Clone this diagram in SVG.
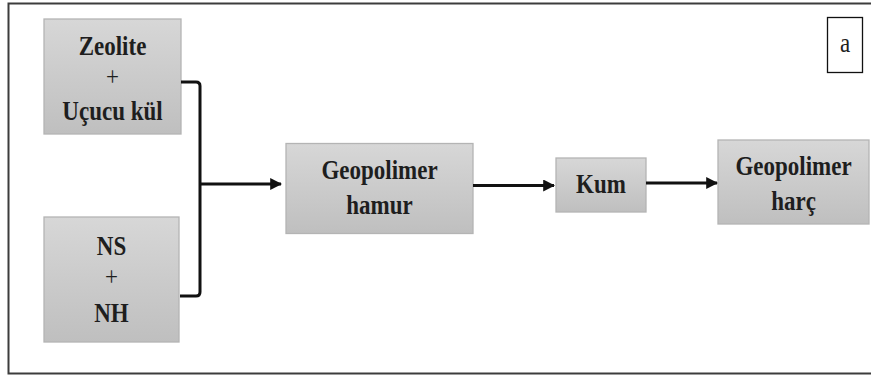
<svg xmlns="http://www.w3.org/2000/svg" width="871" height="379" viewBox="0 0 871 379">
  <style>
    .box { fill: url(#boxfill); stroke: #b4b4b4; stroke-width: 1.3; }
    .lbl { font-family: "Liberation Serif", "Times New Roman", serif; font-weight: bold; font-size: 23px; fill: #1e1e1e; text-anchor: middle; }
    .plus { font-family: "Liberation Serif", "Times New Roman", serif; font-size: 23px; fill: #1e1e1e; text-anchor: middle; }
    .wire { fill: none; stroke: #111; stroke-width: 3; stroke-linejoin: round; }
  </style>
  <defs>
    <linearGradient id="boxfill" x1="0" y1="0" x2="0" y2="1">
      <stop offset="0" stop-color="#d7d7d7"/>
      <stop offset="1" stop-color="#bfbfbf"/>
    </linearGradient>
    <marker id="head" viewBox="0 0 10 10" refX="9" refY="5" markerWidth="4" markerHeight="4" orient="auto" markerUnits="strokeWidth">
      <path d="M0,0 L10,5 L0,10 Z" fill="#111"/>
    </marker>
  </defs>

  <rect width="871" height="379" fill="#ffffff"/>
  <!-- outer frame -->
  <path d="M880,3.5 H8.5 V373.5 H880" fill="none" stroke="#3c3c3c" stroke-width="2"/>

  <!-- panel tag -->
  <g id="tag">
    <rect x="827.5" y="17.5" width="35" height="55" fill="#fff" stroke="#111" stroke-width="1.3"/>
    <text class="plus" transform="translate(845,52) scale(1,1.22)" font-size="21">a</text>
  </g>

  <g id="zeolite">
    <rect class="box" x="44" y="19" width="137" height="115"/>
    <text class="lbl" transform="translate(112.5,55) scale(1,1.22)">Zeolite</text>
    <text class="plus" transform="translate(112.5,86) scale(1,1.22)">+</text>
    <text class="lbl" transform="translate(112.5,120) scale(1,1.22)">Uçucu kül</text>
  </g>

  <g id="ns-nh">
    <rect class="box" x="44" y="217" width="135" height="125"/>
    <text class="lbl" transform="translate(111.5,255) scale(1,1.22)">NS</text>
    <text class="plus" transform="translate(111.5,286) scale(1,1.22)">+</text>
    <text class="lbl" transform="translate(111.5,321.5) scale(1,1.22)">NH</text>
  </g>

  <g id="hamur">
    <rect class="box" x="286" y="143.5" width="187" height="90"/>
    <text class="lbl" transform="translate(379.5,179) scale(1,1.22)">Geopolimer</text>
    <text class="lbl" transform="translate(379.5,214) scale(1,1.22)">hamur</text>
  </g>

  <g id="kum">
    <rect class="box" x="556" y="158" width="90" height="54"/>
    <text class="lbl" transform="translate(601,193) scale(1,1.22)">Kum</text>
  </g>

  <g id="harc">
    <rect class="box" x="718" y="140" width="151" height="84"/>
    <text class="lbl" transform="translate(793.5,175) scale(1,1.22)">Geopolimer</text>
    <text class="lbl" transform="translate(793.5,210) scale(1,1.22)">harç</text>
  </g>

  <g id="connectors">
    <path class="wire" d="M181,82 H196 Q200,82 200,86 V292 Q200,296 196,296 H180"/>
    <path class="wire" d="M200,184 H281" marker-end="url(#head)"/>
    <path class="wire" d="M473,185.5 H554" marker-end="url(#head)"/>
    <path class="wire" d="M646,183 H717" marker-end="url(#head)"/>
  </g>
</svg>
